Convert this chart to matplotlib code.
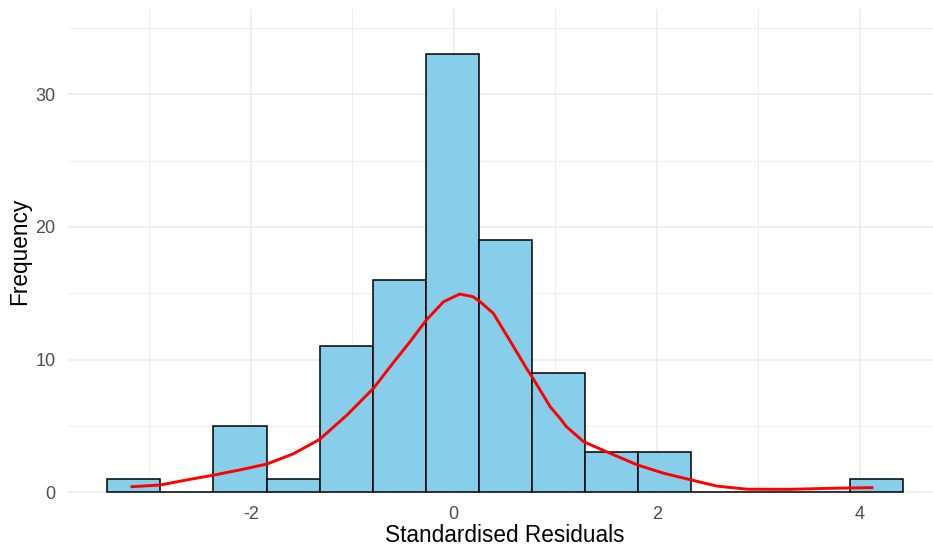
import matplotlib.pyplot as plt
import numpy as np

# histogram of standardised residuals (15 bins) with density overlay
bin_start = -3.413
bin_width = 0.5229
counts = [1, 0, 5, 1, 11, 16, 33, 19, 9, 3, 3, 0, 0, 0, 1]

# density curve, scaled to counts
curve_x = [-3.17, -2.89, -2.63, -2.36, -2.11, -1.84, -1.58, -1.32, -1.05, -0.79,
           -0.60, -0.43, -0.27, -0.10, 0.06, 0.19, 0.26, 0.39, 0.56, 0.72,
           0.78, 0.95, 1.05, 1.11, 1.28, 1.54, 1.81, 2.07, 2.34, 2.59,
           2.89, 3.30, 3.72, 4.12]
curve_y = [0.42, 0.55, 0.93, 1.30, 1.68, 2.13, 2.90, 3.99, 5.83, 7.84,
           9.72, 11.35, 12.98, 14.36, 14.94, 14.74, 14.36, 13.49, 11.35, 9.30,
           8.60, 6.45, 5.55, 4.95, 3.81, 2.94, 2.06, 1.43, 0.93, 0.47,
           0.23, 0.22, 0.30, 0.35]

x_major = [-2, 0, 2, 4]
x_minor = [-3, -1, 1, 3]
y_major = [0, 10, 20, 30]
y_minor = [5, 15, 25, 35]

plt.rcParams['font.family'] = ['Liberation Sans', 'DejaVu Sans']
plt.rcParams['axes.unicode_minus'] = False

W, H = 933, 554
fig = plt.figure(figsize=(W / 100, H / 100), dpi=100)
ax = fig.add_axes([68 / W, (H - 493.6) / H, (933 - 68) / W, (493.6 - 9.3) / H])

edges = bin_start + bin_width * np.arange(len(counts))
ax.bar(edges, counts, width=bin_width, align='edge', color='#87CEEB',
       edgecolor='black', linewidth=1.1, zorder=3)
ax.plot(curve_x, curve_y, color='red', linewidth=2.1, zorder=4)

ax.set_xlim(-3.80, 4.722)
ax.set_ylim(-0.1, 36.4)

ax.set_xticks(x_major)
ax.set_xticks(x_minor, minor=True)
ax.set_yticks(y_major)
ax.set_yticks(y_minor, minor=True)
ax.grid(which='major', color='#EBEBEB', linewidth=1.1, zorder=0)
ax.grid(which='minor', color='#EBEBEB', linewidth=0.6, zorder=0)
ax.set_axisbelow(True)
ax.tick_params(which='both', length=0)
ax.tick_params(axis='x', pad=9, labelsize=13, labelcolor='#4D4D4D')
ax.tick_params(axis='y', pad=9, labelsize=13, labelcolor='#4D4D4D')
for s in ax.spines.values():
    s.set_visible(False)

fig.text(505 / W, 1 - 536 / H, 'Standardised Residuals', ha='center',
         va='center', fontsize=16.3)
fig.text(20 / W, 1 - 251.6 / H, 'Frequency', ha='center', va='center',
         rotation=90, fontsize=16.3)

fig.savefig('out.png', dpi=100)
